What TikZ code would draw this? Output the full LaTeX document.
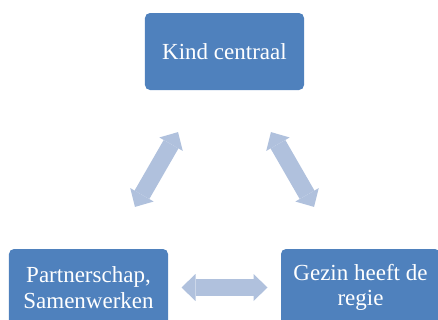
\documentclass[tikz,border=0pt]{standalone}
\usepackage{fontspec}
\setmainfont{Liberation Serif}
\usepackage{tikz}
\usetikzlibrary{matrix}
\usetikzlibrary{arrows.meta}
\definecolor{boxblue}{HTML}{4F81BD}
\definecolor{arrowblue}{HTML}{B0C1DD}
\tikzset{
  block/.style={fill=boxblue, text=white, rounded corners=5pt, minimum width=159pt, minimum height=77pt,
    inner sep=0pt, align=center, font=\fontsize{23pt}{25.5pt}\selectfont},
  dblarrow/.style={color=arrowblue, line width=17pt,
    {Triangle[width=27pt,length=14pt,line width=0pt]}-{Triangle[width=27pt,length=14pt,line width=0pt]},
    shorten <=93pt, shorten >=93pt}
}
\begin{document}
\begin{tikzpicture}
\useasboundingbox (0,0) rectangle (438pt,-320pt);
\clip (0,0) rectangle (438pt,-320pt);
%\matrix(m)[row sep=150pt, column sep=-20pt]
\matrix(m)[row sep=159pt, column sep=-23pt] at (224.5pt,-169.5pt)
{
  & \node[block] (kind) {Kind centraal}; & \\
\node[block] (partner) {Partnerschap,\\ Samenwerken}; & & \node[block] (gezin) {Gezin heeft de\\ regie}; \\};
\path[dblarrow]
(partner.center) edge (kind.center)
(kind.center) edge (gezin.center)
(partner.center) edge (gezin.center);
\end{tikzpicture}
\end{document}
